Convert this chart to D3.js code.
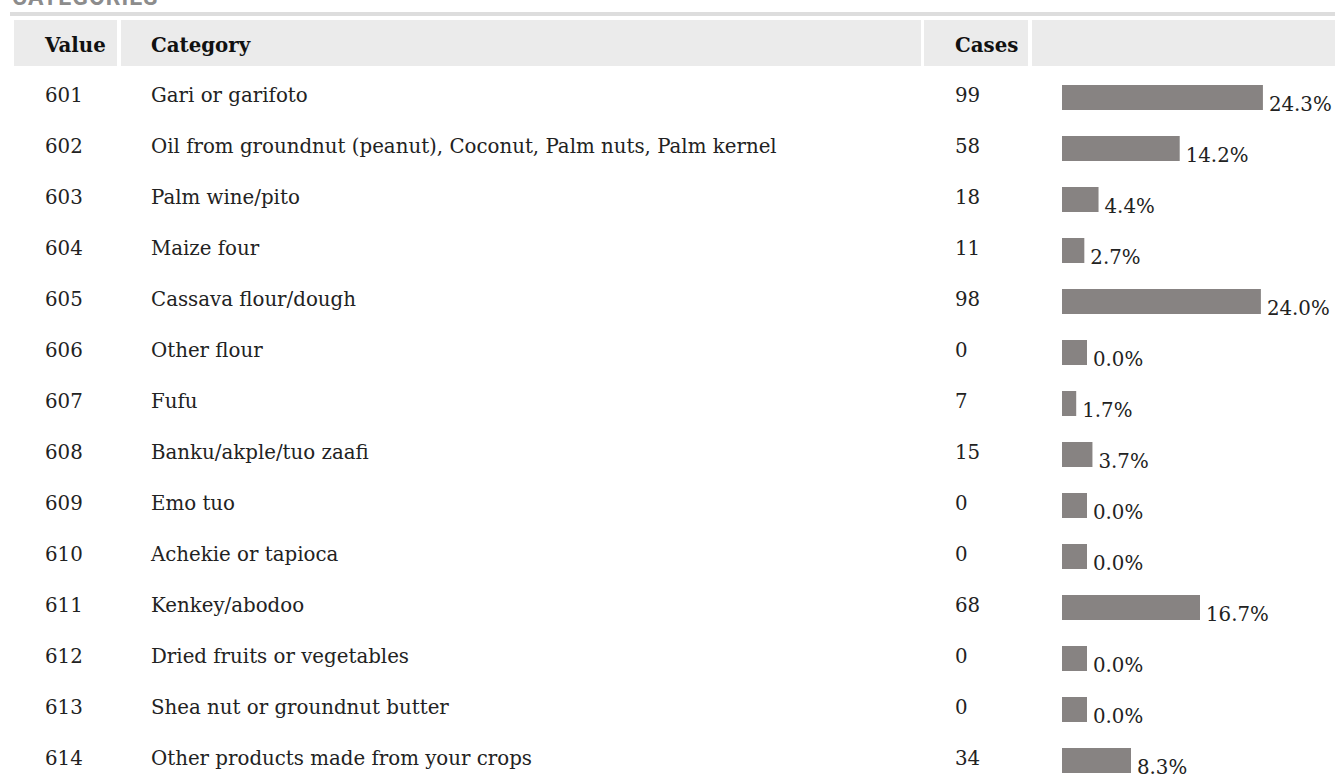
<!DOCTYPE html>
<html>
<head>
	<meta charset="utf-8">
	<title>Categories</title>
	<script src="https://cdn.jsdelivr.net/npm/d3@7"></script>
	<style>
		body { margin: 0; background: #fff; }
		text { font-family: "DejaVu Serif", serif; font-size: 19.8px; fill: #222; }
	</style>
</head>
<body>
	<script>

	var codes = [601, 602, 603, 604, 605, 606, 607, 608, 609, 610, 611, 612, 613, 614];
	var categories = [
		"Gari or garifoto",
		"Oil from groundnut (peanut), Coconut, Palm nuts, Palm kernel",
		"Palm wine/pito",
		"Maize four",
		"Cassava flour/dough",
		"Other flour",
		"Fufu",
		"Banku/akple/tuo zaafi",
		"Emo tuo",
		"Achekie or tapioca",
		"Kenkey/abodoo",
		"Dried fruits or vegetables",
		"Shea nut or groundnut butter",
		"Other products made from your crops"
	];
	var cases = [99, 58, 18, 11, 98, 0, 7, 15, 0, 0, 68, 0, 0, 34];
	var headers = ["Value", "Category", "Cases", ""];

	var width = 1335;
	var height = 780;

	var total = d3.sum(cases);
	var pct = cases.map(function(d) { return d / total * 100; });

	var svg = d3.select("body")
		.append("svg")
		.attr("width", width)
		.attr("height", height);

	// section title, mostly scrolled off the top
	svg.append("text")
		.attr("x", 12)
		.attr("y", 5)
		.style("font-family", "Roboto, sans-serif")
		.style("font-weight", "bold")
		.style("font-size", "23px")
		.style("fill", "#8c8c8c")
		.style("letter-spacing", "1px")
		.text("CATEGORIES");

	svg.append("rect")
		.attr("x", 10).attr("y", 12)
		.attr("width", width - 10).attr("height", 4)
		.attr("fill", "#dddddd");

	// header cells
	var cols = [
		{x0: 14, x1: 117, tx: 45},
		{x0: 121, x1: 921, tx: 151},
		{x0: 924, x1: 1028, tx: 955},
		{x0: 1032, x1: 1335, tx: 1062}
	];

	svg.selectAll("rect.head")
		.data(cols)
		.enter()
		.append("rect")
		.attr("class", "head")
		.attr("x", function(d) { return d.x0; })
		.attr("y", 20)
		.attr("width", function(d) { return d.x1 - d.x0; })
		.attr("height", 46)
		.attr("fill", "#ebebeb");

	svg.selectAll("text.head")
		.data(headers)
		.enter()
		.append("text")
		.attr("class", "head")
		.attr("x", function(d, i) { return cols[i].tx; })
		.attr("y", 52)
		.style("font-weight", "bold")
		.style("fill", "#111")
		.text(function(d) { return d; });

	// rows
	var y = d3.scalePoint()
		.domain(codes)
		.range([97, 760]);

	var x = d3.scaleLinear()
		.domain([0, 100])
		.range([0, 828]);

	var rows = svg.selectAll("g.row")
		.data(codes)
		.enter()
		.append("g")
		.attr("class", "row")
		.attr("transform", function(d) { return "translate(0," + y(d) + ")"; });

	rows.append("text")
		.attr("x", 45).attr("y", 5)
		.text(function(d) { return d; });

	rows.append("text")
		.attr("x", 151).attr("y", 5)
		.text(function(d, i) { return categories[i]; });

	rows.append("text")
		.attr("x", 955).attr("y", 5)
		.text(function(d, i) { return cases[i]; });

	// zero counts still get a small square box
	function barW(i) {
		return cases[i] === 0 ? 25 : x(pct[i]);
	}

	rows.append("rect")
		.attr("x", 1062)
		.attr("y", -12)
		.attr("width", function(d, i) { return barW(i); })
		.attr("height", 25)
		.attr("fill", "#878382");

	rows.append("text")
		.attr("x", function(d, i) { return 1062 + barW(i) + 6; })
		.attr("y", 14)
		.text(function(d, i) { return pct[i].toFixed(1) + "%"; });

	</script>
</body>
</html>
